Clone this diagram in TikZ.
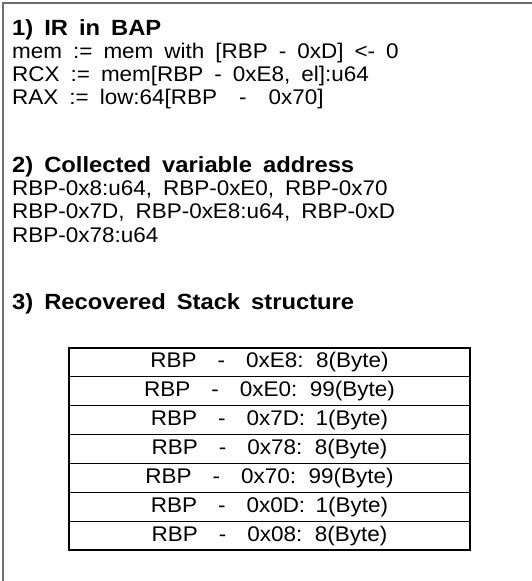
\documentclass[tikz,border=0pt]{standalone}
\usepackage{fontspec}
\setmainfont{Liberation Sans}[FakeStretch=1.06,BoldFeatures={FakeStretch=1.08}]
\definecolor{framegray}{RGB}{110,110,110}
\newcommand\widespaceA{\spaceskip 11pt\relax}
\newcommand\widespaceH{\spaceskip 11pt\relax}
\newcommand\widespaceB{\spaceskip 10.5pt\relax}
\begin{document}
\begin{tikzpicture}[x=1pt,y=-1pt,
  txt/.style={anchor=base west,inner sep=0pt,font=\fontsize{21.2}{24}\selectfont\widespaceA},
  hdr/.style={txt,font=\fontsize{22}{24}\selectfont\bfseries\widespaceH},
  rowbox/.style={draw=black,line width=1.1pt,minimum width=401pt,minimum height=28.86pt,inner sep=0pt,font=\fontsize{21.2}{22}\selectfont\widespaceB},
  frame/.style={draw=framegray,line width=1.6pt}]
\useasboundingbox (0,0) rectangle (532,581);
\draw[frame] (3,581) -- (3,3) -- (532,3);
% section 1
\node[hdr] (h1) at (12,35) {1) IR in BAP};
\node[txt] (l11) at (12,58) {mem := mem with [RBP - 0xD] <- 0};
\node[txt] (l12) at (12,81) {RCX := mem[RBP - 0xE8, el]:u64};
\node[txt] (l13) at (12,104) {RAX := low:64[RBP \ - \ 0x70]};
% section 2
\node[hdr] (h2) at (12,172) {2) Collected variable address};
\node[txt] (l21) at (12,195) {RBP-0x8:u64, RBP-0xE0, RBP-0x70};
\node[txt] (l22) at (12,218) {RBP-0x7D, RBP-0xE8:u64, RBP-0xD};
\node[txt] (l23) at (12,242) {RBP-0x78:u64};
% section 3
\node[hdr] (h3) at (12,309) {3) Recovered Stack structure};
\foreach \i/\t in {1/{RBP \ - \ 0xE8: 8(Byte)},2/{RBP \ - \ 0xE0: 99(Byte)},3/{RBP \ - \ 0x7D: 1(Byte)},4/{RBP \ - \ 0x78: 8(Byte)},5/{RBP \ - \ 0x70: 99(Byte)},6/{RBP \ - \ 0x0D: 1(Byte)},7/{RBP \ - \ 0x08: 8(Byte)}}
  \node[rowbox] (r\i) at (269.5,{348+14.43+(\i-1)*28.86}) {\t};
\end{tikzpicture}
\end{document}
